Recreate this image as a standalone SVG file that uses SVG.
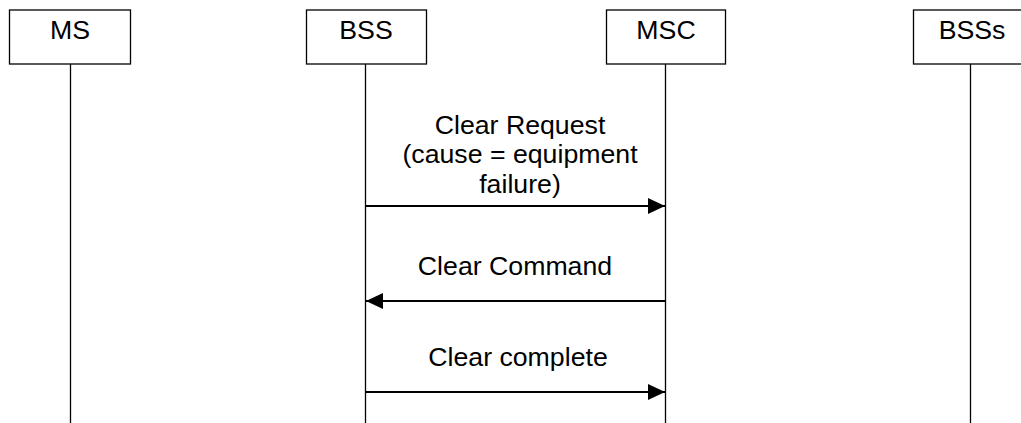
<svg xmlns="http://www.w3.org/2000/svg" width="1021" height="423" viewBox="0 0 1021 423">
<style>
.box{fill:#fff;stroke:#000;stroke-width:1.3}
.life{stroke:#000;stroke-width:1.3;fill:none}
.msg{stroke:#000;stroke-width:2.2;fill:none}
.t{font-family:"Liberation Sans",Arial,sans-serif;font-size:26.7px;fill:#000;text-anchor:middle}
</style>
<defs>
<marker id="ah" viewBox="0 0 17 16" refX="17" refY="8" markerWidth="17" markerHeight="16" markerUnits="userSpaceOnUse" orient="auto">
<path d="M0,0 L17,8 L0,16 Z" fill="#000"/>
</marker>
</defs>
<g id="lifelines">
<line class="life" x1="70.5" y1="64" x2="70.5" y2="423"/>
<line class="life" x1="365.5" y1="64" x2="365.5" y2="423"/>
<line class="life" x1="665.5" y1="64" x2="665.5" y2="423"/>
<line class="life" x1="970.5" y1="64" x2="970.5" y2="423"/>
</g>
<g id="node-MS">
<rect class="box" x="9.5" y="10" width="121" height="54"/>
<text class="t" x="70" y="39">MS</text>
</g>
<g id="node-BSS">
<rect class="box" x="306.5" y="10" width="120" height="54"/>
<text class="t" x="366" y="39">BSS</text>
</g>
<g id="node-MSC">
<rect class="box" x="606.5" y="10" width="119" height="54"/>
<text class="t" x="666" y="39">MSC</text>
</g>
<g id="node-BSSs">
<rect class="box" x="913.5" y="10" width="120" height="54"/>
<text class="t" x="972" y="39">BSSs</text>
</g>
<g id="connectors">
<line class="msg" x1="365.5" y1="206" x2="665" y2="206" marker-end="url(#ah)"/>
<line class="msg" x1="665.5" y1="301" x2="366" y2="301" marker-end="url(#ah)"/>
<line class="msg" x1="365.5" y1="392" x2="665" y2="392" marker-end="url(#ah)"/>
</g>
<g id="labels">
<text class="t" x="520" y="134">Clear Request</text>
<text class="t" x="520" y="163">(cause = equipment</text>
<text class="t" x="520" y="193">failure)</text>
<text class="t" x="515" y="275">Clear Command</text>
<text class="t" x="518" y="366">Clear complete</text>
</g>
</svg>
